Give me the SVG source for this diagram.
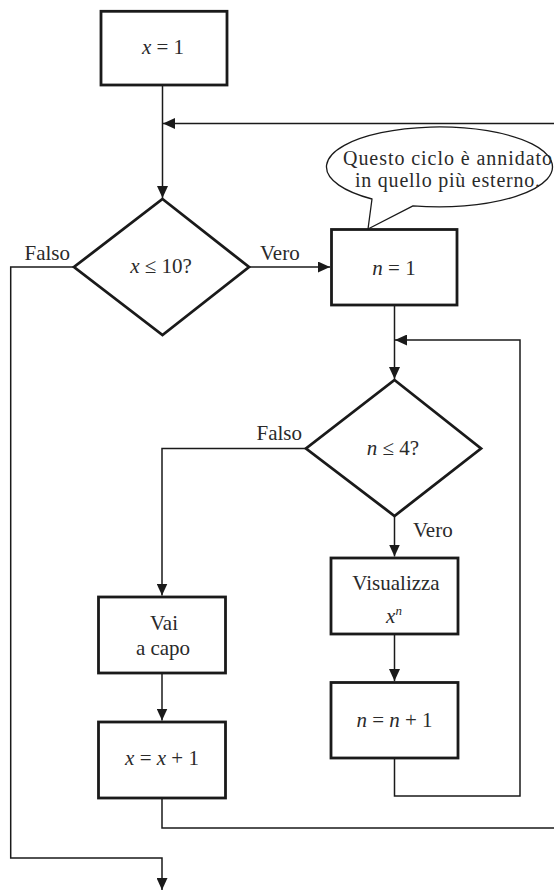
<svg xmlns="http://www.w3.org/2000/svg" width="554" height="891" viewBox="0 0 554 891">
<defs>
<marker id="arr" markerUnits="userSpaceOnUse" markerWidth="12" markerHeight="11" refX="12" refY="5.5" orient="auto">
<path d="M0,0 L12,5.5 L0,11 z" fill="#1a1a1a"/>
</marker>
<style>
.box{fill:#fff;stroke:#1a1a1a;stroke-width:2.8}
.dia{fill:#fff;stroke:#1a1a1a;stroke-width:2.8;stroke-linejoin:miter}
.con{fill:none;stroke:#1a1a1a;stroke-width:1.5}
.arr{marker-end:url(#arr)}
text{font-size:21px;fill:#2a2a2a}
.c{text-anchor:middle}
.i{font-style:italic}
.call{fill:#fff;stroke:#1a1a1a;stroke-width:1.3;stroke-linejoin:round}
.ct{font-size:20px}
</style>
</defs>
<rect width="554" height="891" fill="#fff"/>
<g font-family="'Liberation Serif', 'DejaVu Serif', serif">
<g id="connectors">
<path class="con arr" d="M162.5,85 L162.5,198"/>
<path class="con arr" d="M554,123.5 L163,123.5"/>
<path class="con arr" d="M74,267 L10.7,267 L10.7,858 L162,858 L162,890"/>
<path class="con arr" d="M249,267 L330,267"/>
<path class="con arr" d="M394.5,305 L394.5,379"/>
<path class="con arr" d="M394.5,758 L394.5,796 L520,796 L520,340 L395,340"/>
<path class="con arr" d="M306,448.5 L162,448.5 L162,595.5"/>
<path class="con arr" d="M394.5,516 L394.5,556.5"/>
<path class="con arr" d="M394.5,634 L394.5,681"/>
<path class="con arr" d="M162,673 L162,720.5"/>
<path class="con" d="M162,798 L162,828 L554,828"/>
<text x="70" y="260" text-anchor="end">Falso</text>
<text x="260" y="260">Vero</text>
<text x="302" y="440" text-anchor="end">Falso</text>
<text x="413" y="537">Vero</text>
</g>

<g id="n1">
<rect class="box" x="101" y="11.3" width="126" height="73.7"/>
<text class="c" x="163" y="54"><tspan class="i">x</tspan> = 1</text>
</g>

<g id="d1">
<polygon class="dia" points="162.5,199 249,267 162.5,335 74,267"/>
<text class="c" x="161" y="273"><tspan class="i">x</tspan> ≤ 10?</text>
</g>

<g id="n2">
<rect class="box" x="331.5" y="229.5" width="125.5" height="75.5"/>
<text class="c" x="394" y="275"><tspan class="i">n</tspan> = 1</text>
</g>

<g id="callout">
<path class="call" d="M413,205.8 A113,40 0 1 0 372,199 L368,229 Z"/>
<text class="ct" x="343" y="165" textLength="209" lengthAdjust="spacing">Questo ciclo è annidato</text>
<text class="ct" x="355" y="187" textLength="185" lengthAdjust="spacing">in quello più esterno.</text>
</g>

<g id="d2">
<polygon class="dia" points="394.5,380 481,448.5 394.5,516 306,448.5"/>
<text class="c" x="393" y="455"><tspan class="i">n</tspan> ≤ 4?</text>
</g>

<g id="n3">
<rect class="box" x="331" y="558" width="127" height="76"/>
<text class="c" x="396" y="590">Visualizza</text>
<text class="c" x="394" y="623"><tspan class="i">x</tspan><tspan class="i" font-size="13" dy="-8">n</tspan></text>
</g>

<g id="n4">
<rect class="box" x="331" y="682.5" width="127" height="75.5"/>
<text class="c" x="394.5" y="727"><tspan class="i">n</tspan> = <tspan class="i">n</tspan> + 1</text>
</g>

<g id="n5">
<rect class="box" x="98.5" y="597" width="127" height="76"/>
<text class="c" x="164" y="630">Vai</text>
<text class="c" x="163" y="655">a capo</text>
</g>

<g id="n6">
<rect class="box" x="98.5" y="722" width="127" height="76"/>
<text class="c" x="162" y="765"><tspan class="i">x</tspan> = <tspan class="i">x</tspan> + 1</text>
</g>
</g>
</svg>
